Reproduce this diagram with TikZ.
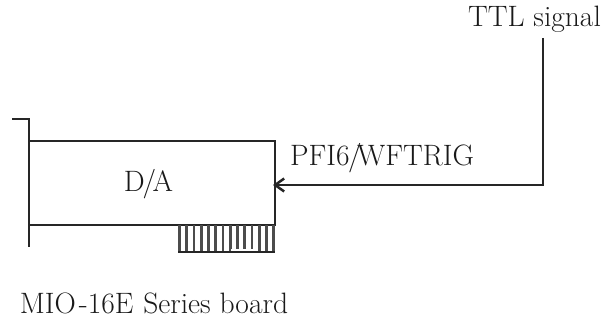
\documentclass[tikz,border=0pt]{standalone}
\usetikzlibrary{arrows.meta}
\tikzset{
  px/.style={x=1pt,y=-1pt},
  edgeline/.style={draw=black!85,line width=1.7pt},
  hatchline/.style={draw=black!70,line width=2.6pt},
  lbl/.style={inner sep=0pt,font=\fontsize{29.5}{32}\selectfont,text=black!90},
  sig/.style={edgeline,-{Straight Barb[length=9pt,width=13pt,line width=2.5pt]}}
}
\begin{document}
\begin{tikzpicture}[px]
\useasboundingbox (0,0) rectangle (607,320);
\draw[edgeline] (12,119) -- (29,119) -- (29,247);
\draw[edgeline] (29,141) -- (275,141) -- (275,225) -- (29,225);
\foreach \i in {0,...,13}{
  \draw[hatchline] ({179.5+\i*7.25},225) -- ({179.5+\i*7.25},252);
}
\draw[edgeline] (178,252) -- (275,252);
\fill[white] (231,248.5) rectangle (255,251);
\node[lbl] (da) at (148.5,184.5) {D\kern-2pt/\kern-3.5pt A};
\node[lbl] (ttl) at (534.5,19) {TTL signal};
\node[lbl] (pfi) at (382,158) {PFI6\kern-1.5pt/\kern-4.5pt WFTRIG};
\node[lbl] (mio) at (154,303.5) {MIO\kern3pt-16E\kern1pt\ Series board};
\coordinate (src) at (543,38);
\coordinate (bend) at (543,185);
\coordinate (dst) at (273,185);
\draw[sig] (src) -- (bend) -- (dst);
\end{tikzpicture}
\end{document}
